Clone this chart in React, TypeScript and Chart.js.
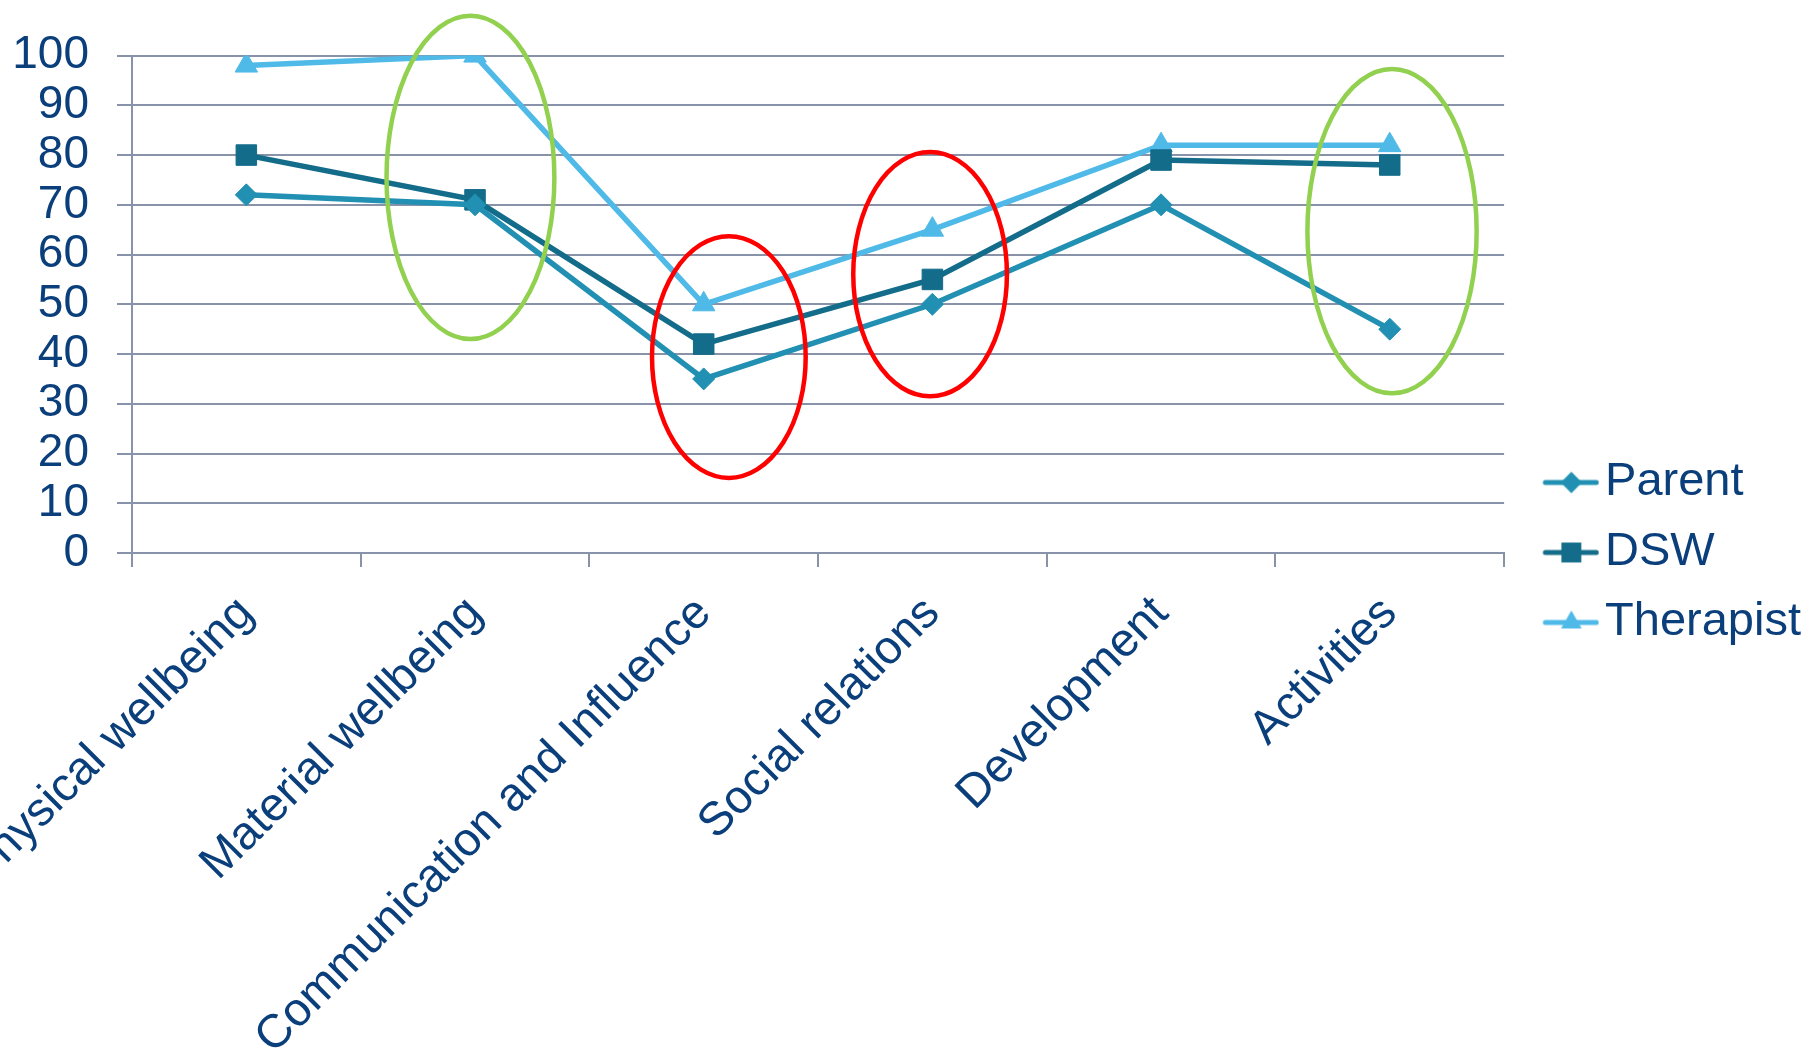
import React, { useEffect, useRef } from "react";
import { Chart, registerables } from "chart.js";

Chart.register(...registerables);

// ---- data ----
const categories = [
  "Physical wellbeing",
  "Material wellbeing",
  "Communication and Influence",
  "Social relations",
  "Development",
  "Activities",
];
const parentValues = [72, 70, 35, 50, 70, 45];
const dswValues = [80, 71, 42, 55, 79, 78];
const therapistValues = [98, 100, 50, 65, 82, 82];
const seriesNames = ["Parent", "DSW", "Therapist"];
const yTickValues = [0, 10, 20, 30, 40, 50, 60, 70, 80, 90, 100];

// highlight ellipses, in data units: category index, value range
const ellipseCategory = [1, 2, 3, 5];
const ellipseTopValue = [108, 63.7, 80.6, 97.3];
const ellipseBottomValue = [43, 15.1, 31.5, 32.1];

// ---- styles ----
const ellipseCenterShift = [-0.02, 0.11, -0.01, 0.01];
const ellipseHalfWidth = [0.367, 0.336, 0.336, 0.37];
const ellipseColors = ["#92D050", "#FF0000", "#FF0000", "#92D050"];

const FONT = "'Liberation Sans', Arial, Helvetica, sans-serif";
const TEXT = "#0B3F7B";
const GRID = "#8892A8";
const colors = ["#2190B2", "#136C8A", "#4FBAE8"];
const pointStyles = ["rectRot", "rect", "triangle"] as const;
const pointRadii = [11, 14.5, 13];

function drawMarker(ctx: CanvasRenderingContext2D, style: string, x: number, y: number, r: number) {
  ctx.beginPath();
  if (style === "rectRot") {
    ctx.moveTo(x, y - r);
    ctx.lineTo(x + r, y);
    ctx.lineTo(x, y + r);
    ctx.lineTo(x - r, y);
  } else if (style === "rect") {
    const s = Math.SQRT1_2 * r;
    ctx.rect(x - s, y - s, 2 * s, 2 * s);
  } else {
    ctx.moveTo(x, y - r);
    ctx.lineTo(x + r * 0.866, y + r / 2);
    ctx.lineTo(x - r * 0.866, y + r / 2);
  }
  ctx.closePath();
  ctx.fill();
}

function legendImage(i: number): HTMLCanvasElement {
  const c = document.createElement("canvas");
  c.width = 90;
  c.height = 32;
  const ctx = c.getContext("2d")!;
  ctx.strokeStyle = colors[i];
  ctx.fillStyle = colors[i];
  ctx.lineWidth = 5;
  ctx.lineCap = "round";
  ctx.beginPath();
  ctx.moveTo(36, 16);
  ctx.lineTo(87, 16);
  ctx.stroke();
  drawMarker(ctx, pointStyles[i], 62, 16, pointRadii[i] * (i === 2 ? 0.92 : 0.97));
  return c;
}

const ellipsePlugin = {
  id: "highlightEllipses",
  afterDatasetsDraw(chart: any) {
    const { ctx, scales } = chart;
    const x = scales.x;
    const y = scales.y;
    const catW = x.getPixelForValue(1) - x.getPixelForValue(0);
    ctx.save();
    ellipseCategory.forEach((cat, i) => {
      const cx = x.getPixelForValue(cat) + ellipseCenterShift[i] * catW;
      const top = y.getPixelForValue(ellipseTopValue[i]);
      const bottom = y.getPixelForValue(ellipseBottomValue[i]);
      ctx.beginPath();
      ctx.ellipse(cx, (top + bottom) / 2, ellipseHalfWidth[i] * catW, (bottom - top) / 2, 0, 0, Math.PI * 2);
      ctx.strokeStyle = ellipseColors[i];
      ctx.lineWidth = 4.5;
      ctx.stroke();
    });
    ctx.restore();
  },
};

export default function App() {
  const ref = useRef<HTMLCanvasElement | null>(null);

  useEffect(() => {
    document.body.style.margin = "0";
    document.body.style.overflow = "hidden";
    const canvas = ref.current!;
    const seriesValues = [parentValues, dswValues, therapistValues];
    const images = seriesNames.map((_, i) => legendImage(i));
    const chart = new Chart(canvas, {
      type: "line",
      data: {
        labels: categories,
        datasets: seriesNames.map((name, i) => ({
          label: name,
          data: seriesValues[i],
          borderColor: colors[i],
          backgroundColor: colors[i],
          borderWidth: 5.5,
          pointStyle: pointStyles[i],
          pointRadius: pointRadii[i],
          pointBorderWidth: 1,
          pointBorderColor: colors[i],
          pointBackgroundColor: colors[i],
          tension: 0,
          fill: false,
        })),
      },
      options: {
        responsive: false,
        animation: false,
        layout: { padding: { top: 53, right: 3, bottom: 7, left: 0 } },
        plugins: {
          tooltip: { enabled: false },
          legend: {
            position: "right",
            labels: {
              usePointStyle: true,
              pointStyleWidth: 54.5,
              padding: 23,
              color: TEXT,
              font: { family: FONT, size: 47 },
              generateLabels: () =>
                seriesNames.map((name, i) => ({
                  text: name,
                  pointStyle: images[i] as any,
                  fillStyle: colors[i],
                  strokeStyle: colors[i],
                  lineWidth: 0,
                  hidden: false,
                  datasetIndex: i,
                  fontColor: TEXT,
                })),
            },
          },
        },
        scales: {
          x: {
            type: "category",
            offset: true,
            grid: {
              offset: true,
              drawOnChartArea: false,
              drawTicks: true,
              tickLength: 14,
              color: GRID,
              lineWidth: 2,
            },
            border: { color: GRID, width: 2 },
            ticks: {
              autoSkip: false,
              minRotation: 45,
              maxRotation: 45,
              padding: 19,
              color: TEXT,
              font: { family: FONT, size: 47 },
            },
            afterFit: (s: any) => {
              s.height = 1059 - 7 - 553;
              s.paddingLeft = 0;
              s.paddingRight = 0;
            },
          },
          y: {
            min: 0,
            max: 100,
            afterBuildTicks: (s: any) => {
              s.ticks = yTickValues.map((v) => ({ value: v }));
            },
            grid: { color: GRID, lineWidth: 2, tickLength: 15, drawTicks: true },
            border: { color: GRID, width: 2 },
            ticks: {
              autoSkip: false,
              stepSize: 10,
              padding: 28,
              color: TEXT,
              font: { family: FONT, size: 46 },
            },
            afterFit: (s: any) => {
              s.width = 132;
            },
          },
        },
      },
      plugins: [ellipsePlugin],
    });
    return () => chart.destroy();
  }, []);

  return (
    <div style={{ width: 1814, height: 1059 }}>
      <canvas ref={ref} width={1814} height={1059} style={{ display: "block" }} />
    </div>
  );
}
